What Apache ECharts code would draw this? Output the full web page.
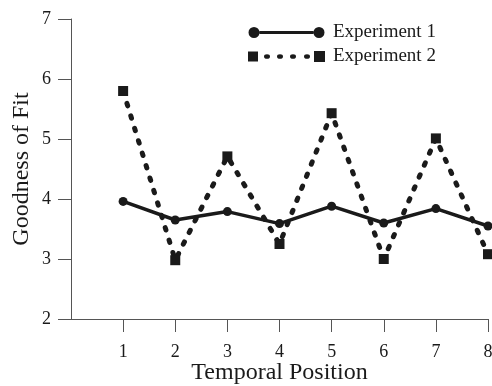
<!DOCTYPE html>
<html>
<head>
<meta charset="utf-8">
<script src="https://cdn.jsdelivr.net/npm/echarts@6/dist/echarts.min.js"></script>
<style>
  html, body { margin: 0; padding: 0; background: #fff; }
</style>
</head>
<body>
<div id="chart" style="width: 492px; height: 386px"></div>
<script>
const positions = [1, 2, 3, 4, 5, 6, 7, 8]
const experiment1 = [3.96, 3.65, 3.79, 3.59, 3.88, 3.6, 3.84, 3.55]
const experiment2 = [5.8, 2.98, 4.71, 3.25, 5.43, 3.0, 5.01, 3.08]
const yTicks = [2, 3, 4, 5, 6, 7]

const serif = 'Liberation Serif'
const ink = '#1a1a1a'

// legend icons: line with a marker at each end
const iconExp1 = 'path://M0.5,6 A5.5,5.5 0 1,0 11.5,6 A5.5,5.5 0 1,0 0.5,6 Z' +
  'M11.5,4.5 L65.5,4.5 L65.5,7.5 L11.5,7.5 Z' +
  'M65.5,6 A5.5,5.5 0 1,0 76.5,6 A5.5,5.5 0 1,0 65.5,6 Z' +
  'M0,0 L0.01,0 Z M77,12 L76.99,12 Z'
const iconExp2 = 'path://M0,1 L10,1 L10,11 L0,11 Z' +
  'M66,0.5 L77,0.5 L77,11.5 L66,11.5 Z' +
  'M16,6 A3,2.3 0 1,0 22,6 A3,2.3 0 1,0 16,6 Z' +
  'M29,6 A3,2.3 0 1,0 35,6 A3,2.3 0 1,0 29,6 Z' +
  'M42,6 A3,2.3 0 1,0 48,6 A3,2.3 0 1,0 42,6 Z' +
  'M56,6 A3,2.3 0 1,0 62,6 A3,2.3 0 1,0 56,6 Z' +
  'M0,0 L0.01,0 Z M77,12 L76.99,12 Z'

const myChart = echarts.init(document.getElementById('chart'))
const option = {
  animation: false,
  backgroundColor: '#fff',
  textStyle: { fontFamily: serif, color: ink },
  grid: { left: 71, top: 19, right: 4, bottom: 67, containLabel: false, outerBoundsMode: 'none' },
  legend: {
    left: 248,
    top: 23,
    padding: 0,
    orient: 'vertical',
    itemWidth: 77,
    itemHeight: 12,
    itemGap: 5,
    data: [
      { name: 'Experiment 1', icon: iconExp1 },
      { name: 'Experiment 2', icon: iconExp2 }
    ],
    textStyle: { fontFamily: serif, fontSize: 19, color: ink, padding: [0, 0, 0, 3] }
  },
  xAxis: {
    type: 'value',
    min: 0,
    max: 8,
    interval: 1,
    name: 'Temporal Position',
    nameLocation: 'middle',
    nameGap: 42,
    nameMoveOverlap: false,
    nameTextStyle: { fontFamily: serif, fontSize: 24, color: ink },
    splitLine: { show: false },
    axisLine: { lineStyle: { color: '#555', width: 1 } },
    axisTick: { show: true, length: 13, lineStyle: { color: '#555' }, customValues: positions },
    axisLabel: { margin: 24, fontFamily: serif, fontSize: 18, color: ink, customValues: positions }
  },
  yAxis: {
    type: 'value',
    min: 2,
    max: 7,
    interval: 1,
    name: 'Goodness of Fit',
    nameLocation: 'middle',
    nameGap: 37,
    nameMoveOverlap: false,
    nameTextStyle: { fontFamily: serif, fontSize: 24, color: ink },
    splitLine: { show: false },
    axisLine: { show: true, lineStyle: { color: '#555', width: 1 } },
    axisTick: { show: true, length: 13, lineStyle: { color: '#555' }, customValues: yTicks },
    axisLabel: { margin: 20, fontFamily: serif, fontSize: 18, color: ink, customValues: yTicks }
  },
  series: [
    {
      name: 'Experiment 2',
      type: 'line',
      data: positions.map((p, i) => [p, experiment2[i]]),
      symbol: 'rect',
      symbolSize: 10,
      itemStyle: { color: ink },
      lineStyle: { color: ink, width: 5, type: [2.5, 10.5], cap: 'round' },
      z: 2
    },
    {
      name: 'Experiment 1',
      type: 'line',
      data: positions.map((p, i) => [p, experiment1[i]]),
      symbol: 'circle',
      symbolSize: 9,
      itemStyle: { color: ink },
      lineStyle: { color: ink, width: 3.5 },
      z: 3
    }
  ]
}
myChart.setOption(option)
</script>
</body>
</html>
